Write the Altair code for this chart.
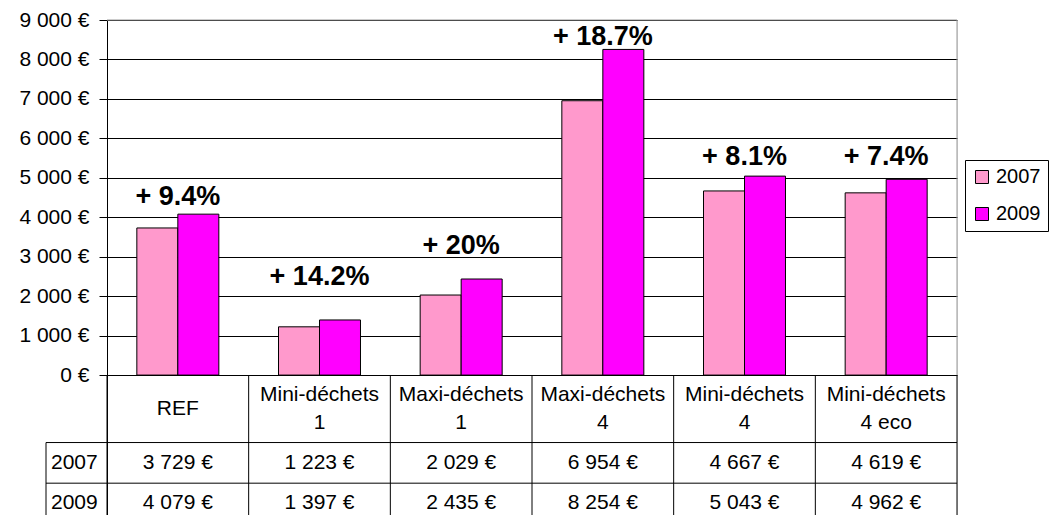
import altair as alt
import pandas as pd

# ---------------- data ----------------
categories = ["REF", "Mini-déchets 1", "Maxi-déchets 1", "Maxi-déchets 4",
              "Mini-déchets 4", "Mini-déchets 4 eco"]
header_labels = ["REF", "Mini-déchets\n1", "Maxi-déchets\n1", "Maxi-déchets\n4",
                 "Mini-déchets\n4", "Mini-déchets\n4 eco"]
years = ["2007", "2009"]
values_2007 = [3729, 1223, 2029, 6954, 4667, 4619]
values_2009 = [4079, 1397, 2435, 8254, 5043, 4962]
growth_labels = ["+ 9.4%", "+ 14.2%", "+ 20%", "+ 18.7%", "+ 8.1%", "+ 7.4%"]
y_ticks = [0, 1000, 2000, 3000, 4000, 5000, 6000, 7000, 8000, 9000]

# ---------------- styles / layout ----------------
FONT = "Liberation Sans"
COLORS = ["#FF99CC", "#FF00FF"]
W, H = 850, 505
Y_MIN, Y_MAX = -3800, 9000
TABLE_EDGES = [-1710, -2740]     # y-scale units: header bottom, 2007 row bottom
TABLE_BOTTOM = -3772
HEADER_Y = -855
ROW_Y = [-2225, -3230]
LABEL_ANCHOR_Y = [4320, 2291, 3077, 8379, 5335, 5335]   # baseline of growth labels (y units)
LEFT_COL_X = -61                 # px, left border of row-label column
ROW_LABEL_X = -56
LINE_H = 28

def fmt_eur(v):
    return f"{v:,}".replace(",", " ") + " €"

y_scale = alt.Scale(domain=[Y_MIN, Y_MAX], nice=False)
y_axis = alt.Axis(values=y_ticks, title=None, grid=True, gridColor="black",
                  gridWidth=1, domainColor="black", tickColor="black", tickSize=8,
                  labelPadding=10, labelFontSize=21, labelFont=FONT,
                  labelColor="black",
                  labelExpr="replace(format(datum.value, ','), ',', ' ') + ' €'")
x_scale = alt.Scale(domain=categories, paddingInner=0, paddingOuter=0)


def X(**kw):
    return alt.X("cat:N", scale=x_scale, axis=None, **kw)


def YD(v):
    return alt.YDatum(v, scale=y_scale, axis=y_axis)


def Y2D(v):
    return alt.Y2Datum(v)


rows = []
for yr, vals in zip(years, [values_2007, values_2009]):
    for c, v in zip(categories, vals):
        rows.append({"cat": c, "year": yr, "value": v})
bars_df = pd.DataFrame(rows)

bars = alt.Chart(bars_df).mark_bar(stroke="black", strokeWidth=1).encode(
    x=X(),
    xOffset=alt.XOffset("year:N", scale=alt.Scale(domain=years, paddingInner=0,
                                                  paddingOuter=0.7277)),
    y=alt.Y("value:Q", scale=y_scale, axis=y_axis),
    y2=Y2D(0),
    color=alt.Color("year:N", scale=alt.Scale(domain=years, range=COLORS),
                    legend=alt.Legend(title=None, orient="none", legendX=858,
                                      legendY=140, strokeColor="black",
                                      fillColor="white", padding=7,
                                      symbolType="square", symbolSize=169,
                                      symbolStrokeColor="black",
                                      symbolStrokeWidth=1, labelFontSize=20,
                                      labelFont=FONT, labelColor="black",
                                      rowPadding=17, labelOffset=4)),
)

pct_df = pd.DataFrame({"cat": categories, "label": growth_labels,
                       "anchor": LABEL_ANCHOR_Y})
pct = alt.Chart(pct_df).mark_text(font=FONT, fontSize=27, fontWeight="bold",
                                  baseline="alphabetic", color="black").encode(
    x=X(), y=alt.Y("anchor:Q", scale=y_scale, axis=y_axis), text="label:N")

dummy = pd.DataFrame({"d": [0]})
cat_df = pd.DataFrame({"cat": categories, "header": header_labels})
one_line = cat_df[~cat_df["header"].str.contains("\n")]
two_line = cat_df[cat_df["header"].str.contains("\n")]

layers = [bars, pct]

# table header
layers.append(alt.Chart(one_line).mark_text(font=FONT, fontSize=21,
                                            baseline="middle", color="black").encode(
    x=X(), y=YD(HEADER_Y), text="header:N"))
layers.append(alt.Chart(two_line).mark_text(font=FONT, fontSize=21, lineBreak="\n",
                                            lineHeight=LINE_H, baseline="middle",
                                            dy=-LINE_H / 2, color="black").encode(
    x=X(), y=YD(HEADER_Y), text="header:N"))

# table values + row labels
for yr, vals, ry in zip(years, [values_2007, values_2009], ROW_Y):
    df = pd.DataFrame({"cat": categories, "txt": [fmt_eur(v) for v in vals]})
    layers.append(alt.Chart(df).mark_text(font=FONT, fontSize=21, baseline="middle",
                                          color="black").encode(
        x=X(), y=YD(ry), text="txt:N"))
    layers.append(alt.Chart(pd.DataFrame({"year": [yr]})).mark_text(
        font=FONT, fontSize=21, baseline="middle", align="left", color="black").encode(
        x=alt.value(ROW_LABEL_X), y=YD(ry), text="year:N"))

# category column boundaries in the table
layers.append(alt.Chart(cat_df).mark_rule(color="black", strokeWidth=1).encode(
    x=X(bandPosition=0), y=YD(0), y2=Y2D(TABLE_BOTTOM)))
layers.append(alt.Chart(dummy).mark_rule(color="black", strokeWidth=1).encode(
    x=alt.value(W), y=YD(0), y2=Y2D(TABLE_BOTTOM)))
# horizontal table borders
for e in TABLE_EDGES + [TABLE_BOTTOM]:
    layers.append(alt.Chart(dummy).mark_rule(color="black", strokeWidth=1).encode(
        x=alt.value(LEFT_COL_X), x2=alt.value(W), y=YD(e)))
layers.append(alt.Chart(dummy).mark_rule(color="black", strokeWidth=1).encode(
    x=alt.value(LEFT_COL_X), y=YD(TABLE_EDGES[0]), y2=Y2D(TABLE_BOTTOM)))
# plot-area frame (grey)
layers.append(alt.Chart(dummy).mark_rule(color="#999999", strokeWidth=1).encode(
    x=alt.value(0), x2=alt.value(W), y=YD(Y_MAX)))
layers.append(alt.Chart(dummy).mark_rule(color="#999999", strokeWidth=1).encode(
    x=alt.value(W), y=YD(Y_MAX), y2=Y2D(0)))

chart = alt.layer(*layers).properties(
    width=W, height=H,
    autosize=alt.AutoSizeParams(type="none"),
    padding={"left": 99, "top": 12, "right": 92, "bottom": 0},
).configure_view(stroke=None).configure(font=FONT)

chart.save("out.html", embed_options={"renderer": "svg", "actions": False})
